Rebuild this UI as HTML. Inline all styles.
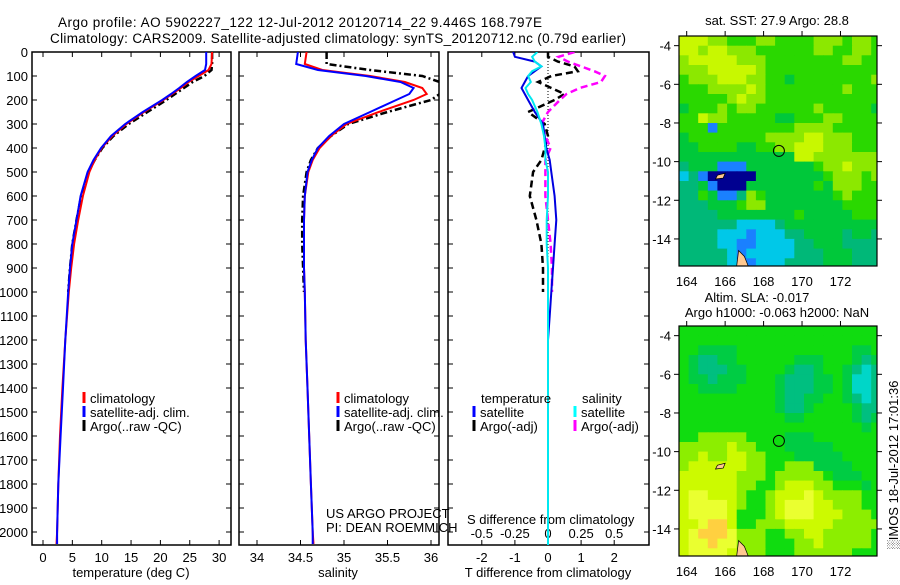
<!DOCTYPE html>
<html><head><meta charset="utf-8"><style>
body{margin:0;background:#fff;}
svg text{font-family:"Liberation Sans",sans-serif;fill:#000;}
</style></head><body>
<svg id="c" width="900" height="580" viewBox="0 0 900 580" xmlns="http://www.w3.org/2000/svg">
<text x="58" y="27" font-size="13.5" textLength="484">Argo profile: AO 5902227_122 12-Jul-2012 20120714_22 9.446S 168.797E</text>
<text x="50" y="43" font-size="13.5" textLength="576">Climatology: CARS2009. Satellite-adjusted climatology: synTS_20120712.nc (0.79d earlier)</text>
<g id="g"></g>
</svg>
<script>
// ---- profile data ----
const depths=[0,50,75,100,125,150,175,200,250,300,350,400,450,500,600,700,800,900,1000,1200,1400,1600,1800,2000,2050];
const tempClim=[28.8,28.7,28.2,26.5,24.8,23.5,22,20.5,17.2,14.2,11.8,10,8.8,7.9,6.8,6.0,5.3,4.8,4.4,3.8,3.3,2.9,2.6,2.4,2.3];
const tempSat=[27.8,27.8,27.6,26.0,24.5,23.2,21.8,20.3,17.0,14.0,11.6,9.9,8.6,7.6,6.4,5.7,5.0,4.6,4.3,3.8,3.4,3.0,2.6,2.4,2.4];
const tempArgo=[28.8,28.8,28.7,27.5,25.5,24,22.5,21,17.8,14.6,12,10.1,8.8,7.7,6.5,5.7,5.0,4.6,4.3];
const salClim=[34.57,34.55,34.75,35.3,35.7,35.9,35.95,35.8,35.4,35.03,34.85,34.72,34.64,34.59,34.55,34.54,34.54,34.54,34.55,34.56,34.58,34.6,34.62,34.64,34.65];
const salSat=[34.47,34.45,34.7,35.25,35.65,35.8,35.75,35.6,35.3,35.0,34.83,34.7,34.63,34.58,34.55,34.54,34.54,34.54,34.55,34.56,34.58,34.6,34.62,34.64,34.64];
const salArgo=[34.8,34.8,35.3,35.9,36.1,36.1,36.1,36.0,35.5,35.05,34.85,34.7,34.62,34.57,34.53,34.52,34.52,34.53,34.54];
const diffDepths=[0,20,40,60,80,100,125,150,175,200,250,300,350,400,450,500,600,700,800,900,1000,1100,1200,1400,2060];
const tDiffSat=[-1.05,-1.0,-0.4,-0.2,-0.4,-0.6,-0.7,-0.8,-0.7,-0.6,-0.4,-0.15,-0.1,-0.05,0.05,0.1,0.2,0.25,0.2,0.15,0.1,0.05,0,0,0];
const sDiffSat=[-0.08,-0.12,-0.1,-0.05,-0.12,-0.15,-0.13,-0.17,-0.15,-0.12,-0.08,-0.05,-0.03,-0.02,-0.02,0,0,-0.01,-0.01,0,0,0,0,0,0];
const tDiffArgo=[0,0,0.3,0.8,0.9,0.1,-0.3,0.1,0.5,0.2,-0.6,-0.1,0,-0.1,-0.2,-0.45,-0.55,-0.35,-0.2,-0.15,-0.15];
const sDiffArgo=[0.2,0.08,0.15,0.25,0.35,0.43,0.4,0.24,0.14,0.09,0,-0.05,-0.02,0.02,-0.02,-0.02,-0.02,0,0.02,0.03,0.03];
const depthTicks=[0,100,200,300,400,500,600,700,800,900,1000,1100,1200,1300,1400,1500,1600,1700,1800,1900,2000];
const tempTicks=[0,5,10,15,20,25,30];
const salTicks=[34,34.5,35,35.5,36];
const tDiffTicks=[-2,-1,0,1,2];
const sDiffTicks=[-0.5,-0.25,0,0.25,0.5];
const lonTicks=[164,166,168,170,172];
const latTicks=[-4,-6,-8,-10,-12,-14];
const argoLon=168.797, argoLat=-9.446;
const sstGrid=[
"YYYLLGGGLLGGGGLLLGLLG","YYLYYLLLGGGGGGLLGGLLG","LYYYYYLLLGGGGGGGGLLGG","LLLYYYYYLGGGGGGGGGGGG",
"GLLLYYYLLGGDGGGGGGGGL","GGGLLLLYLGGGGGGGGLGGG","GGGGGLYLLGGGGGGGGGGGG","DGGGLGLLGGGGGGLGGGGGD",
"GGYLLGGGGGDDGGGLLGGGG","GGGBGGGGGGGGLLLLGGGGG","DGGGGGGGGLLLLYYLLLGGG","DDGGGGDDGGLLYYYLLLGGG",
"DDDDDDDDDDDDYYLLLLLLL","TDDDBBBDDDDDDDGLLYLLL","CTBNNNNNDDDDDDDGLLLGL","TTDBNNNDDDDDDDGDLLLGG",
"TTGDBBTLGDDDDDDDGLGGG","TTTDDDGLLDDDDDDDDGGGG","TTTTDDDDDDDDGDDDDDGGG","TTTTTTCCCCTDDDDDDDDDD",
"TTTTCCCBCCCTTDDDDTDDT","TTTTCCBBCCCCTTDDDTTTT","TTTTTCBCCCCCTTTDDDTTT","TTTTTOBBCCCTTTTDDDTTT"];
const slaGrid=[
"GGGGGGGGGGGGGGGGGGGGG","GGGGGGGGGGGGGGGGGGGGG","GGDDDDGGGGGGGGGGGGDDG","GDTTDDGGGGGGDDDGGGDTD",
"GDTTTDDGGGGDTTDGGDTCT","GDDTDDDGGGDTTTDDGDCCT","GGDDDDGGGGDTTTDDGDCCT","GGGGGGGGGGDTTDDGGDTCT",
"GGGGGGGGGGDTTDGGGGDTT","GGGGGGGGGGGDDGGGGGDTD","GGGGGGGGGGGGGGGGGGGDG","GGLLLLLGGGGDDDGGGGGGG",
"LLLLLYLLGGGDDDDDGGGGG","LLYLLYYLLGGGDDDDDGGGG","LYYYYYYLLGGLLLDDDDGGG","YYYYYYLLLGLLLLLGDDDGG",
"YYYYYYLLGGLYYYLLGGGDG","YyyYYYLGGLYYYyYLLLLGG","YyyyyYLGGLYyyyYYLLLGG","YyyyyYGGGLYyyyYYYLLLG",
"YYyOOYGGLLLYYYYYLLLLL","YyOOOyLLLGGLLYYLLLLLG","YyyOyyLLLGGGLLYLLLLLG","YyyyyYLLLGGGLLLLLLGGG"];
const pal1={Y:"#c8f800",L:"#8ce800",G:"#2ad800",D:"#00c83a",T:"#00b878",C:"#00c8e8",B:"#1a80ff",N:"#000090",O:"#00c8e8"};
const pal2={G:"#10dc10",D:"#00cc44",T:"#00bf80",C:"#00d6c8",L:"#8cee00",Y:"#ccfa00",y:"#eaff30",O:"#ffd040"};

const NS="http://www.w3.org/2000/svg";
const root=document.getElementById('g');
function mk(tag,attrs,parent){const e=document.createElementNS(NS,tag);for(const k in attrs)e.setAttribute(k,attrs[k]);(parent||root).appendChild(e);return e;}
function txt(x,y,s,size,anchor,parent){const t=mk('text',{x:x,y:y,'font-size':size,'text-anchor':anchor||'start'},parent);t.textContent=s;return t;}

const pTop=52,pBot=545;
const yD=d=>pTop+d*0.24;
const xT=v=>43+v*5.87;
const xS=v=>257+(v-34)*87;
const xTd=v=>548+v*33.1;
const xSd=v=>548+v*132.4;
const defs=mk('defs',{});

function panel(x0,x1,name){
  const r=mk('rect',{x:x0,y:pTop,width:x1-x0,height:pBot-pTop,fill:'none',stroke:'#000','stroke-width':1.5});
  
  
  depthTicks.forEach(d=>{mk('line',{x1:x0,x2:x0+5,y1:yD(d),y2:yD(d),stroke:'#000'});mk('line',{x1:x1,x2:x1-5,y1:yD(d),y2:yD(d),stroke:'#000'});});
}
panel(32,231,'temperature-panel');
panel(239,439,'salinity-panel');
panel(448,649,'difference-panel');
depthTicks.forEach(d=>{
  const t=txt(28,yD(d)+5,String(d),13,'end');
  
  
});
function xticks(vals,fx,label,y){
  vals.forEach(v=>{const x=fx(v);
    mk('line',{x1:x,x2:x,y1:pBot,y2:pBot-5,stroke:'#000'});
    mk('line',{x1:x,x2:x,y1:pTop,y2:pTop+5,stroke:'#000'});
    const t=txt(x,y,label(v),13,'middle');
    
    
  });
}
xticks(tempTicks,xT,v=>String(v),562);
xticks(salTicks,xS,v=>String(v),562);
xticks(tDiffTicks,xTd,v=>String(v),562);
sDiffTicks.forEach(v=>{const x=xSd(v);
  const t=txt(x,538,String(v),13,'middle');
  
  
});
[['temperature (deg C)',131,'x-axis-title-temperature'],['salinity',338,'x-axis-title-salinity'],['T difference from climatology',548,'x-axis-title-t-diff']].forEach(a=>{
  const t=txt(a[1],577,a[0],13,'middle');
  
  
});
{const t=txt(467,524,'S difference from climatology',13,'start');

}

[['cp1',32,231],['cp2',239,439],['cp3',448,649]].forEach(c=>{const cp=mk('clipPath',{id:c[0]},defs);mk('rect',{x:c[1],y:pTop,width:c[2]-c[1],height:pBot-pTop},cp);});
function S(vals,dep,fx,color,w,dash,name,cp){
  const pts=vals.map((v,i)=>fx(v).toFixed(1)+','+yD(dep[i]).toFixed(1)).join(' ');
  const p=mk('polyline',{points:pts,fill:'none',stroke:color,'stroke-width':w,'stroke-dasharray':dash||'none','clip-path':'url(#'+cp+')'});
  
  
}
S(tempArgo,depths,xT,'#000',2.5,'7,3,2,3','temp-argo-line','cp1');
S(tempClim,depths,xT,'#f00',2,'','temp-climatology-line','cp1');
S(tempSat,depths,xT,'#00f',2,'','temp-satellite-line','cp1');
S(salArgo,depths,xS,'#000',2.5,'7,3,2,3','sal-argo-line','cp2');
S(salClim,depths,xS,'#f00',2,'','sal-climatology-line','cp2');
S(salSat,depths,xS,'#00f',2,'','sal-satellite-line','cp2');
mk('line',{x1:548,x2:548,y1:pTop,y2:pBot,stroke:'#000','stroke-dasharray':'1,2'});
S(tDiffArgo,diffDepths,xTd,'#000',2.5,'7,4','t-diff-argo-line','cp3');
S(sDiffArgo,diffDepths,xSd,'#f0f',2.5,'7,4','s-diff-argo-line','cp3');
S(tDiffSat,diffDepths,xTd,'#0000e0',2,'','t-diff-satellite-line','cp3');
S(sDiffSat,diffDepths,xSd,'#00e8f0',2,'','s-diff-satellite-line','cp3');

function legend(x,y,items){
  items.forEach((it,i)=>{const yy=y+i*14;
    mk('line',{x1:x,x2:x,y1:yy-11,y2:yy,stroke:it[1],'stroke-width':3});
    const t=txt(x+6,yy,it[0],13,'start');
    
    
  });
}
legend(84,403,[['climatology','#f00'],['satellite-adj. clim.','#00f'],['Argo(..raw -QC)','#000']]);
legend(338,403,[['climatology','#f00'],['satellite-adj. clim.','#00f'],['Argo(..raw -QC)','#000']]);
txt(481,403,'temperature',13);
legend(474,417,[['satellite','#00f'],['Argo(-adj)','#000']]);
txt(582,403,'salinity',13);
legend(575,417,[['satellite','#0ff'],['Argo(-adj)','#f0f']]);
txt(326,518,'US ARGO PROJECT',13);
txt(326,532,'PI: DEAN ROEMMICH',13);

// ---- maps ----
function map(y0,grid,pal,name){
  const x0=679,w=198,h=230,lon0=163.6,lon1=173.9,lat0=-3.5,lat1=-15.4;
  const fx=l=>x0+(l-lon0)/(lon1-lon0)*w, fy=l=>y0+(lat0-l)/(lat0-lat1)*h;
  const g=mk('g',{});
  
  
  const cpid='m'+y0;const cp=mk('clipPath',{id:cpid},defs);mk('rect',{x:x0,y:y0,width:w,height:h},cp);
  const cg=mk('g',{'clip-path':'url(#'+cpid+')'},g);
  grid.forEach((row,r)=>{for(let c=0;c<row.length;c++){
    const la=lat0-r*0.5, lo=lon0+c*0.5;
    mk('rect',{x:fx(lo).toFixed(1),y:fy(la).toFixed(1),width:(fx(lo+0.5)-fx(lo)+0.6).toFixed(1),height:(fy(la-0.5)-fy(la)+0.6).toFixed(1),fill:pal[row[c]]},cg);
  }});
  mk('polygon',{points:[[166.7,-14.6],[167.0,-14.9],[167.2,-15.4],[166.6,-15.4]].map(p=>fx(p[0])+','+fy(p[1])).join(' '),fill:'#ffc890',stroke:'#000','stroke-width':0.7},cg);
  mk('polygon',{points:[[165.6,-10.7],[166.0,-10.6],[165.9,-10.85],[165.5,-10.9]].map(p=>fx(p[0])+','+fy(p[1])).join(' '),fill:'#ffc890',stroke:'#000','stroke-width':0.7},cg);
  mk('rect',{x:x0,y:y0,width:w,height:h,fill:'none',stroke:'#000','stroke-width':1.2},g);
  const c=mk('circle',{cx:fx(argoLon),cy:fy(argoLat),r:5.5,fill:'none',stroke:'#000','stroke-width':1},g);
  
  
  lonTicks.forEach(l=>{mk('line',{x1:fx(l),x2:fx(l),y1:y0,y2:y0-5,stroke:'#000'},g);
    const t=txt(fx(l),y0+h+20,String(l),13,'middle',g);
    
    });
  latTicks.forEach(l=>{mk('line',{x1:x0,x2:x0-5,y1:fy(l),y2:fy(l),stroke:'#000'},g);
    mk('line',{x1:x0+w,x2:x0+w+5,y1:fy(l),y2:fy(l),stroke:'#000'},g);
    const t=txt(x0-8,fy(l)+5,String(l),13,'end',g);
    
    });
}
map(36,sstGrid,pal1,'sst-map');
map(326,slaGrid,pal2,'sla-map');
txt(777,25,'sat. SST: 27.9 Argo: 28.8',13,'middle');
txt(757,302,'Altim. SLA: -0.017',13,'middle');
txt(777,317,'Argo h1000: -0.063 h2000: NaN',13,'middle');
{const t=txt(0,0,'\u2591IMOS 18-Jul-2012 17:01:36',13,'middle');t.setAttribute('transform','translate(898,465) rotate(-90)');

}
</script>
</body></html>
